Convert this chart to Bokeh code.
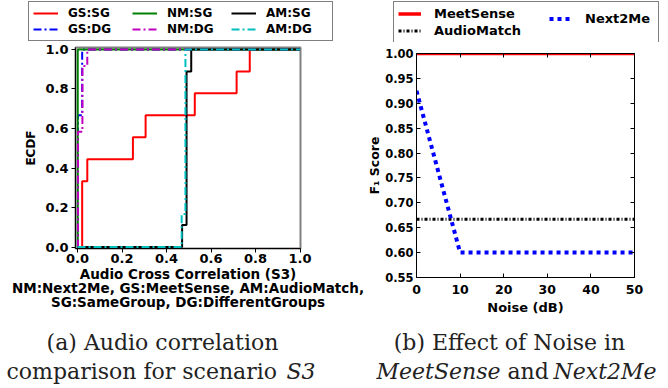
from bokeh.plotting import figure
from bokeh.layouts import row, column
from bokeh.models import (Range1d, Legend, LegendItem, Label, LinearAxis,
                          FixedTicker, NumeralTickFormatter)
from bokeh.embed import file_html
from bokeh.resources import INLINE

# ---------------- data: panel (a) ECDF samples of audio cross correlation ----
gs_sg = [0.021, 0.021, 0.021, 0.044, 0.249, 0.306, 0.527, 0.715, 0.774]
gs_dg = [0.002, 0.002, 0.021]
nm_sg = [0.001, 0.001, 0.001]
nm_dg = [0.002] * 7 + [0.022] * 4 + [0.044]
am_sg = [0.470] + [0.490] * 7 + [0.511]
am_dg = [0.468] + [0.485] * 5
ecdf_ticks = [0.0, 0.2, 0.4, 0.6, 0.8, 1.0]

# ---------------- data: panel (b) F1 score vs noise --------------------------
noise_db = [0, 10, 20, 30, 40, 50]
meetsense_f1 = [1.0, 1.0, 1.0, 1.0, 1.0, 1.0]
next2me_f1 = [0.925, 0.60, 0.60, 0.60, 0.60, 0.60]
audiomatch_f1 = [0.667, 0.667, 0.667, 0.667, 0.667, 0.667]
noise_ticks = [0, 10, 20, 30, 40, 50]
f1_ticks = [0.55, 0.60, 0.65, 0.70, 0.75, 0.80, 0.85, 0.90, 0.95, 1.00]

SANS = "DejaVu Sans"
SERIF = "DejaVu Serif"
W = 668
LEG_H = 42      # legend strip height
MID_H = 278     # plots strip height
CAP_H = 388 - LEG_H - MID_H
W1 = 364        # width of panel (a) canvas


def ecdf(samples):
    s = sorted(samples)
    n = len(s)
    xs = [0.0] + s + [1.0]
    ys = [0.0] + [(i + 1) / n for i in range(n)] + [1.0]
    return xs, ys


def blank(h):
    f = figure(width=W, height=h, output_backend="svg", toolbar_location=None,
               x_range=Range1d(0, 1), y_range=Range1d(0, 1),
               x_axis_type=None, y_axis_type=None, min_border=0,
               min_border_left=0, min_border_right=0, min_border_top=0,
               min_border_bottom=0)
    f.grid.visible = False
    f.outline_line_color = None
    f.frame_align = False
    return f


series_a = [
    ("GS:SG", gs_sg, "#ff0000", "solid"),
    ("GS:DG", gs_dg, "#0000ff", "8 3 2 3"),
    ("NM:SG", nm_sg, "#008000", "solid"),
    ("NM:DG", nm_dg, "#bf00bf", "8 3 2 3"),
    ("AM:SG", am_sg, "#000000", "solid"),
    ("AM:DG", am_dg, "#00bfbf", "8 3 2 3"),
]
series_b = [
    ("MeetSense", meetsense_f1, dict(line_color="#ff0000", line_width=3.5)),
    ("AudioMatch", audiomatch_f1, dict(line_color="black", line_width=3,
                                       line_dash="3 2 1 2")),
    ("Next2Me", next2me_f1, dict(line_color="#0000ff", line_width=4,
                                 line_dash="4 4")),
]

# ============================ panel (a) =====================================
p1 = figure(width=W1, height=MID_H, output_backend="svg", toolbar_location=None,
            x_range=Range1d(-0.009, 1.002), y_range=Range1d(-0.0075, 1.010),
            min_border_left=75, min_border_right=W1 - 300,
            min_border_top=47 - LEG_H,
            min_border_bottom=LEG_H + MID_H - 248)
p1.frame_align = False
p1.grid.visible = False
p1.outline_line_color = "#808080"
p1.outline_line_width = 2

for ax in (p1.xaxis[0], p1.yaxis[0]):
    ax.ticker = FixedTicker(ticks=ecdf_ticks)
    ax.formatter = NumeralTickFormatter(format="0.0")
    ax.major_label_text_font = SANS
    ax.major_label_text_font_style = "bold"
    ax.major_label_text_font_size = "13px"
    ax.major_label_text_color = "black"
    ax.major_tick_out = 4
    ax.major_tick_in = 0
    ax.minor_tick_line_color = None
    ax.axis_line_color = "black"
    ax.axis_label_text_font = SANS
    ax.axis_label_text_font_style = "bold"
    ax.axis_label_text_color = "black"
p1.xaxis.major_label_standoff = 1
p1.yaxis.major_label_standoff = 3
p1.xaxis.axis_label = ("Audio Cross Correlation (S3)\n"
                       "NM:Next2Me, GS:MeetSense, AM:AudioMatch,\n"
                       "SG:SameGroup, DG:DifferentGroups")
p1.xaxis.axis_label_text_font_size = "13.5px"
p1.xaxis.axis_label_text_line_height = 0.9
p1.xaxis.axis_label_standoff = 0
p1.yaxis.axis_label = "ECDF"
p1.yaxis.axis_label_text_font_size = "12px"
p1.yaxis.axis_label_standoff = 4

for name, samples, color, dash in series_a:
    xs, ys = ecdf(samples)
    p1.step(xs, ys, mode="after", line_color=color, line_width=2, line_dash=dash)

# ============================ panel (b) =====================================
p2 = figure(width=W - W1, height=MID_H, output_backend="svg", toolbar_location=None,
            x_range=Range1d(0, 50), y_range=Range1d(0.55, 1.0),
            min_border_left=414 - W1, min_border_right=W - 634,
            min_border_top=53 - LEG_H,
            min_border_bottom=LEG_H + MID_H - 277)
p2.frame_align = False
p2.grid.visible = False
p2.outline_line_color = "black"
p2.outline_line_width = 1

p2.xaxis.ticker = FixedTicker(ticks=noise_ticks)
p2.yaxis.ticker = FixedTicker(ticks=f1_ticks)
p2.yaxis.formatter = NumeralTickFormatter(format="0.00")
for ax in (p2.xaxis[0], p2.yaxis[0]):
    ax.major_label_text_font = SANS
    ax.major_label_text_font_style = "bold"
    ax.major_label_text_font_size = "11.5px"
    ax.major_label_text_color = "black"
    ax.major_tick_in = 4
    ax.major_tick_out = 0
    ax.minor_tick_line_color = None
    ax.axis_line_color = "black"
    ax.axis_label_text_font = SANS
    ax.axis_label_text_font_style = "bold"
    ax.axis_label_text_color = "black"
p2.xaxis.major_label_text_font_size = "12.5px"
p2.xaxis.major_label_standoff = 7
p2.yaxis.major_label_standoff = 3
p2.xaxis.axis_label = "Noise (dB)"
p2.xaxis.axis_label_text_font_size = "13px"
p2.xaxis.axis_label_standoff = 3
p2.yaxis.axis_label = "F\u2081 Score"
p2.yaxis.axis_label_text_font_size = "12.5px"
p2.yaxis.axis_label_standoff = 0

top_ax = LinearAxis(ticker=FixedTicker(ticks=noise_ticks),
                    major_label_text_color=None, major_label_text_font_size="0px",
                    major_label_standoff=0, major_tick_in=4,
                    major_tick_out=0, minor_tick_line_color=None,
                    axis_line_color="black")
right_ax = LinearAxis(ticker=FixedTicker(ticks=f1_ticks),
                      major_label_text_color=None, major_label_text_font_size="0px",
                      major_label_standoff=0, major_tick_in=4,
                      major_tick_out=0, minor_tick_line_color=None,
                      axis_line_color="black")
p2.add_layout(top_ax, "above")
p2.add_layout(right_ax, "right")

for name, vals, style in series_b:
    p2.line(noise_db, vals, **style)

# ============================ legend strip ==================================
lf = blank(LEG_H)
leg_items_a = {}
for name, samples, color, dash in series_a:
    xs, ys = ecdf(samples)
    leg_items_a[name] = lf.line(xs, ys, line_color=color, line_width=2,
                                line_dash=dash, visible=False)
leg_items_b = {}
for name, vals, style in series_b:
    leg_items_b[name] = lf.line(noise_db, vals, visible=False, **style)

order_a = ["GS:SG", "NM:SG", "AM:SG", "GS:DG", "NM:DG", "AM:DG"]
leg_a = Legend(items=[LegendItem(label=n, renderers=[leg_items_a[n]]) for n in order_a],
               location=(28, LEG_H - 41), orientation="horizontal", nrows=2,
               label_text_font=SANS, label_text_font_style="bold",
               label_text_font_size="12px", label_text_color="black",
               glyph_width=25, glyph_height=14, label_standoff=10,
               label_width=62, spacing=2, padding=4, margin=0,
               border_line_color="black", border_line_width=1,
               background_fill_color="white", background_fill_alpha=1)
lf.add_layout(leg_a, "center")

leg_kw = dict(label_text_font=SANS, label_text_font_style="bold",
              label_text_font_size="13px", label_text_color="black",
              glyph_width=23, glyph_height=15, label_standoff=13,
              spacing=2, padding=4, margin=0)
leg_b1 = Legend(items=[LegendItem(label=n, renderers=[leg_items_b[n]])
                       for n in ("MeetSense", "AudioMatch")],
                location=(393, LEG_H - 43), orientation="vertical",
                label_width=220, border_line_color="black",
                background_fill_color="white", background_fill_alpha=1,
                **leg_kw)
leg_b2 = Legend(items=[LegendItem(label="Next2Me", renderers=[leg_items_b["Next2Me"]])],
                location=(549, LEG_H - 26), orientation="vertical",
                border_line_color=None, background_fill_alpha=0,
                **leg_kw)
lf.add_layout(leg_b1, "center")
lf.add_layout(leg_b2, "center")

# ============================ caption strip =================================
cf = blank(CAP_H)
cap = dict(x_units="screen", y_units="screen", text_font=SERIF,
           text_font_size="22px", text_color="#222222",
           text_baseline="alphabetic")
y1 = 388 - 341.7
y2 = 388 - 371
cf.add_layout(Label(x=162, y=y1, text="(a) Audio correlation",
                    text_align="center", **cap))
cf.add_layout(Label(x=6, y=y2, text="comparison for scenario",
                    text_align="left", **cap))
cf.add_layout(Label(x=286, y=y2, text="S3", text_align="left",
                    text_font_style="italic", **cap))
cf.add_layout(Label(x=509, y=y1, text="(b) Effect of Noise in",
                    text_align="center", **cap))
cf.add_layout(Label(x=376, y=y2, text="MeetSense", text_align="left",
                    text_font_style="italic", **cap))
cf.add_layout(Label(x=507, y=y2, text="and", text_align="left", **cap))
cf.add_layout(Label(x=553, y=y2, text="Next2Me", text_align="left",
                    text_font_style="italic", **cap))

layout = column(lf, row(p1, p2), cf)
open("out.html", "w").write(file_html(layout, INLINE))
